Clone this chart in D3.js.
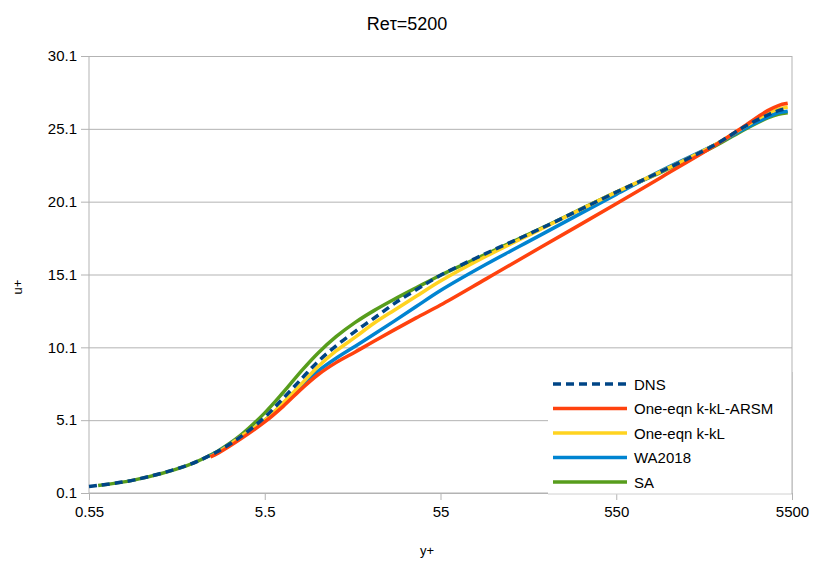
<!DOCTYPE html>
<html>
<head>
<meta charset="utf-8">
<script src="https://cdn.jsdelivr.net/npm/d3@7"></script>
<style>
  body { margin: 0; background: #fff; }
  #mainbox { width: 815px; height: 564px; }
  text { font-family: "Liberation Sans", Arial, sans-serif; fill: #000; }
  .axis path, .axis line { stroke: #b3b3b3; }
  .axis text { font-size: 15px; }
</style>
</head>
<body>
<div id="mainbox"></div>
<script>
// y+ sample points shared by all series (null = series not drawn there)
const yPlus = [0.55, 0.62, 1, 2, 2.7, 3, 4, 5.5, 7, 9, 11, 14, 18, 23, 30, 40, 55, 100, 200, 550, 1000, 2000, 3000, 4000, 4600, 5200];

const dns  = [0.55, 0.62, 1.0, 2.0, 2.7, 2.98, 3.95, 5.3, 6.6, 8.0, 9.1, 10.2, 11.2, 12.1, 13.1, 14.05, 15.05, 16.55, 18.2, 20.75, 22.2, 24.0, 25.3, 26.05, 26.35, 26.5];
const arsm = [null, null, null, null, 2.58, 2.85, 3.8, 4.98, 6.05, 7.3, 8.2, 9.05, 9.78, 10.52, 11.3, 12.12, 13.0, 14.8, 16.9, 19.95, 21.8, 23.95, 25.35, 26.35, 26.7, 26.85];
const kkl  = [null, null, null, null, 2.6, 2.9, 3.95, 5.1, 6.3, 7.65, 8.75, 9.85, 10.8, 11.75, 12.65, 13.6, 14.65, 16.35, 18.15, 20.75, 22.2, 24.0, 25.3, 26.15, 26.45, 26.6];
const wa   = [null, null, null, null, 2.65, 2.95, 3.95, 5.1, 6.25, 7.55, 8.45, 9.35, 10.18, 11.0, 11.9, 12.9, 14.0, 15.8, 17.75, 20.6, 22.25, 24.0, 25.15, 25.9, 26.2, 26.3];
const sa   = [null, 0.62, 1.0, 2.0, 2.7, 3.0, 4.05, 5.6, 7.0, 8.55, 9.68, 10.83, 11.81, 12.62, 13.4, 14.19, 15.05, 16.5, 18.2, 20.75, 22.15, 23.9, 25.1, 25.85, 26.1, 26.2];

const seriesNames = ['DNS', 'One-eqn k-kL-ARSM', 'One-eqn k-kL', 'WA2018', 'SA'];
const seriesColors = ['#004586', '#ff420e', '#ffd320', '#0084d1', '#579d1c'];
const seriesValues = [dns, arsm, kkl, wa, sa];

const xTicks = [0.55, 5.5, 55, 550, 5500];
const yTicks = [0.1, 5.1, 10.1, 15.1, 20.1, 25.1, 30.1];

const w_svg = 815, h_svg = 564;
const margin = {t:56, r:23, b:71, l:89};
const w = w_svg - margin.l - margin.r,
      h = h_svg - margin.t - margin.b;

let svgMain = d3.select('#mainbox')
  .append('svg')
  .attr('width', w_svg)
  .attr('height', h_svg);

svgMain.append('text')
  .attr('x', 407)
  .attr('y', 30)
  .attr('text-anchor', 'middle')
  .style('font-size', '18px')
  .text('Reτ=5200');

let plot = svgMain.append('g')
  .attr('transform', `translate(${margin.l},${margin.t})`);

const scaleX = d3.scaleLog().domain([0.55, 5500]).range([0, w]);
const scaleY = d3.scaleLinear().domain([0.1, 30.1]).range([h, 0]);

// grid lines
plot.append('g')
  .attr('class', 'axis grid')
  .call(d3.axisLeft(scaleY).tickValues(yTicks).tickSize(-w).tickFormat(''))
  .call(g => g.select('.domain').remove());

plot.append('line')
  .attr('x1', w).attr('x2', w)
  .attr('y1', 0).attr('y2', h)
  .attr('stroke', '#b3b3b3');

const axisY = d3.axisLeft(scaleY)
  .tickValues(yTicks)
  .tickSize(8)
  .tickPadding(4)
  .tickFormat(d3.format('.1f'));

const axisX = d3.axisBottom(scaleX)
  .tickValues(xTicks)
  .tickSize(7)
  .tickPadding(6)
  .tickFormat(d => d);

plot.append('g')
  .attr('class', 'axis axis-y')
  .call(axisY);

plot.append('g')
  .attr('class', 'axis axis-x')
  .attr('transform', `translate(0,${h})`)
  .call(axisX);

plot.selectAll('.axis-y .domain, .axis-x .domain').attr('d', null);
plot.append('line')
  .attr('x1', 0).attr('x2', w).attr('y1', h).attr('y2', h)
  .attr('stroke', '#b3b3b3');
plot.append('line')
  .attr('x1', 0).attr('x2', 0).attr('y1', 0).attr('y2', h)
  .attr('stroke', '#b3b3b3');

// axis titles
svgMain.append('text')
  .attr('transform', 'translate(22,287) rotate(-90)')
  .attr('text-anchor', 'middle')
  .style('font-size', '13px')
  .text('u+');

svgMain.append('text')
  .attr('x', 427)
  .attr('y', 555)
  .attr('text-anchor', 'middle')
  .style('font-size', '13px')
  .text('y+');

// curves
const line = d3.line()
  .defined(d => d.u != null)
  .x(d => scaleX(d.y))
  .y(d => scaleY(d.u))
  .curve(d3.curveCatmullRom.alpha(0.5));

const drawOrder = [4, 3, 2, 1, 0];
drawOrder.forEach(i => {
  const pts = yPlus.map((y, j) => ({y: y, u: seriesValues[i][j]}));
  plot.append('path')
    .datum(pts)
    .attr('fill', 'none')
    .attr('stroke', seriesColors[i])
    .attr('stroke-width', 3.5)
    .attr('stroke-dasharray', i === 0 ? '8,5' : null)
    .attr('d', line);
});

// legend
const legX = 548 - margin.l, legY = 372 - margin.t;
const legend = plot.append('g');
legend.append('rect')
  .attr('x', legX).attr('y', legY)
  .attr('width', w - legX).attr('height', h + 1 - legY)
  .attr('fill', '#fff');
legend.append('line')
  .attr('x1', legX).attr('x2', w).attr('y1', h + 1).attr('y2', h + 1)
  .attr('stroke', '#d0d0d0');
legend.append('line')
  .attr('x1', w).attr('x2', w).attr('y1', legY).attr('y2', h + 1)
  .attr('stroke', '#b3b3b3');

seriesNames.forEach((name, i) => {
  const cy = 384 - margin.t + i * 24.5;
  legend.append('line')
    .attr('x1', 553 - margin.l).attr('x2', 627 - margin.l)
    .attr('y1', cy).attr('y2', cy)
    .attr('stroke', seriesColors[i])
    .attr('stroke-width', 3.5)
    .attr('stroke-dasharray', i === 0 ? '8,5' : null);
  legend.append('text')
    .attr('x', 634 - margin.l)
    .attr('y', cy + 5.5)
    .style('font-size', '15px')
    .text(name);
});
</script>
</body>
</html>
